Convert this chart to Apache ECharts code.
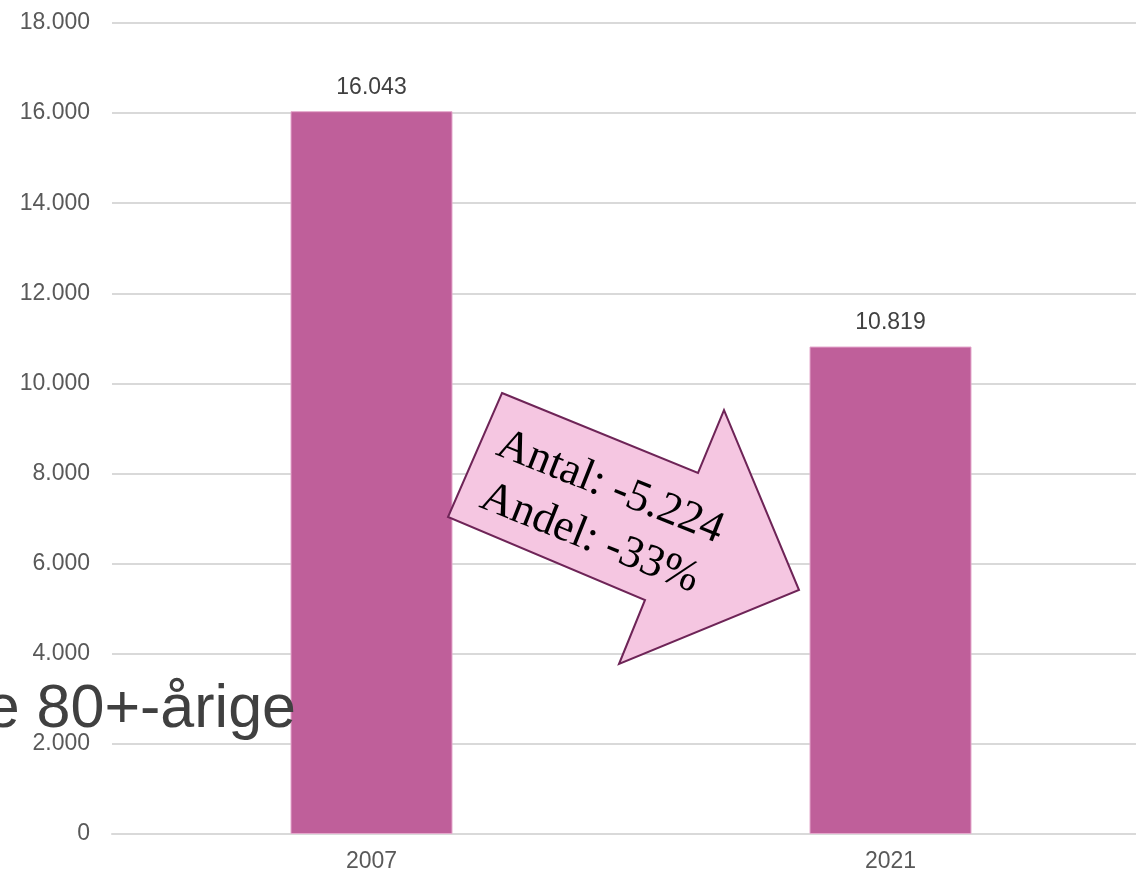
<!DOCTYPE html>
<html>
<head>
<meta charset="utf-8">
<script src="https://cdn.jsdelivr.net/npm/echarts@6/dist/echarts.min.js"></script>
<style>
html,body{margin:0;padding:0;background:#fff;overflow:hidden;}
#c{width:1150px;height:874px;}
</style>
</head>
<body>
<div id="c"></div>
<script>
var categories = ['2007', '2021'];
var values = [16043, 10819];
var yTicks = [0, 2000, 4000, 6000, 8000, 10000, 12000, 14000, 16000, 18000];
var titleText = 'De 80+-årige';
var arrowLines = ['Antal: -5.224', 'Andel: -33%'];

function fmt(v) {
  return String(v).replace(/\B(?=(\d{3})+(?!\d))/g, '.');
}

var chart = echarts.init(document.getElementById('c'), null, {renderer: 'canvas'});
var deg = Math.PI / 180;
chart.setOption({
  animation: false,
  backgroundColor: '#ffffff',
  grid: {left: 112, right: 0, top: 23, bottom: 40, containLabel: false},
  xAxis: {
    type: 'category',
    data: categories,
    axisTick: {show: false},
    axisLine: {show: true, lineStyle: {color: '#d9d9d9', width: 2}},
    axisLabel: {color: '#595959', fontSize: 23, fontFamily: 'Liberation Sans, Arial', margin: 16}
  },
  yAxis: {
    type: 'value',
    min: yTicks[0],
    max: yTicks[yTicks.length - 1],
    interval: 2000,
    axisLine: {show: false},
    axisTick: {show: false},
    splitLine: {lineStyle: {color: '#d9d9d9', width: 2}},
    axisLabel: {color: '#595959', fontSize: 23, fontFamily: 'Liberation Sans, Arial', margin: 22, formatter: fmt}
  },
  series: [{
    type: 'bar',
    data: values,
    barWidth: 162,
    itemStyle: {color: '#BF5F9A', borderColor: '#E4A8CC', borderWidth: 1},
    label: {
      show: true, position: 'top', distance: 12,
      color: '#404040', fontSize: 23, fontFamily: 'Liberation Sans, Arial',
      formatter: function (p) { return fmt(p.value); }
    }
  }],
  graphic: [
    {
      type: 'text',
      x: 296,
      y: 710,
      z: 100,
      style: {
        text: titleText,
        fill: '#404040',
        font: '61px "Liberation Sans", Arial',
        align: 'right',
        verticalAlign: 'middle',
        textAlign: 'right',
        textVerticalAlign: 'middle'
      }
    },
    {
      type: 'polygon',
      z: 50,
      shape: {points: [[502, 393], [698, 473], [724, 410], [799, 590], [619, 664], [645, 600], [448, 517]]},
      style: {fill: '#F5C6E1', stroke: '#6E2457', lineWidth: 2}
    },
    {
      type: 'text',
      z: 60,
      x: 600, y: 513,
      rotation: -21.8 * deg,
      style: {
        text: arrowLines.join('\n'),
        fill: '#000000',
        font: '45px "Liberation Serif", "Times New Roman"',
        lineHeight: 55,
        textAlign: 'center',
        textVerticalAlign: 'middle',
        align: 'center',
        verticalAlign: 'middle'
      }
    }
  ]
});
</script>
</body>
</html>
